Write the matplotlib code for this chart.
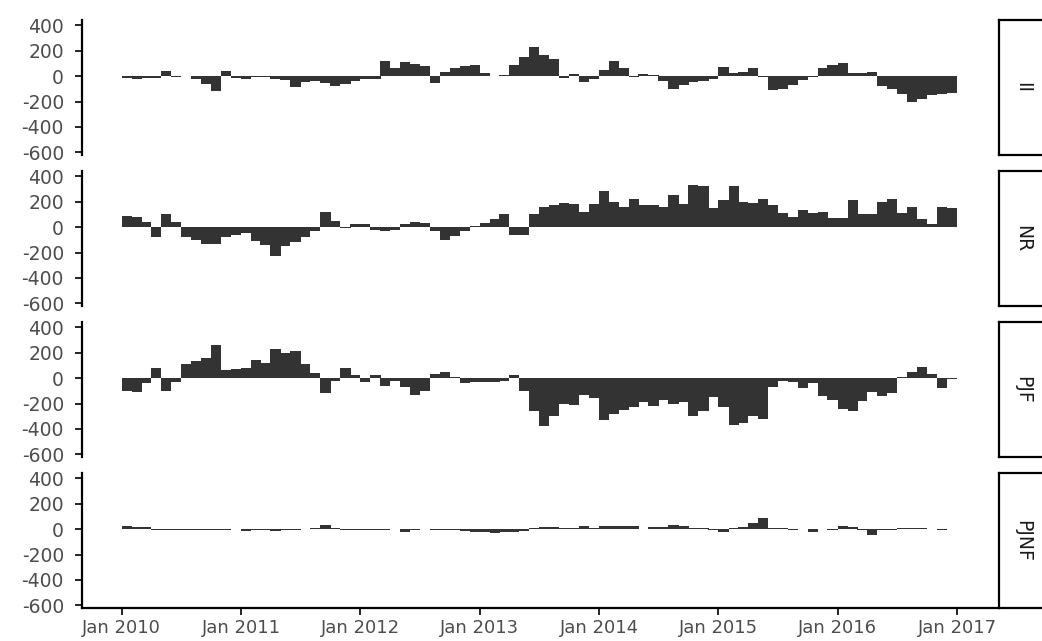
import numpy as np
import pandas as pd
import matplotlib
matplotlib.use("Agg")
import matplotlib.pyplot as plt
import matplotlib.dates as mdates

nan = np.nan

# monthly values, Jan 2010 .. Dec 2016
months = pd.date_range("2010-01-01", periods=84, freq="MS")

II = [-15, -20, -15, -15, 40, -10, nan, -20, -60, -120, 40, -15,
      -20, -10, -5, -25, -35, -85, -50, -40, -55, -75, -60, -40,
      -25, -20, 120, 60, 110, 95, 80, -55, 35, 65, 80, 90,
      20, 0, 10, 90, 150, 230, 165, 130, -15, 15, -50, -20,
      50, 120, 60, -10, 15, 5, -40, -100, -70, -50, -40, -20,
      70, 20, 35, 60, -10, -110, -100, -70, -30, -10, 60, 90,
      100, 20, 20, 30, -80, -100, -140, -200, -180, -150, -140, -130]

NR = [85, 80, 40, -75, 100, 40, -80, -100, -130, -130, -80, -60,
      -50, -110, -140, -230, -150, -120, -80, -30, 120, 50, -5, 20,
      20, -20, -30, -20, 20, 40, 30, -30, -100, -70, -30, 10,
      30, 60, 100, -60, -60, 100, 160, 170, 190, 180, 120, 180,
      280, 200, 160, 220, 170, 170, 160, 250, 180, 330, 320, 150,
      210, 320, 200, 190, 220, 170, 110, 80, 130, 110, 120, 70,
      70, 210, 100, 100, 200, 220, 110, 160, 60, 20, 160, 150]

PJF = [-100, -110, -40, 80, -100, -30, 110, 130, 160, 260, 60, 70,
       80, 140, 120, 230, 200, 210, 110, 40, -120, -20, 80, 20,
       -30, 20, -60, -20, -70, -130, -100, 30, 50, 10, -40, -30,
       -30, -30, -20, 20, -100, -260, -380, -300, -200, -210, -130, -160,
       -330, -280, -250, -230, -190, -220, -170, -200, -190, -300, -260, -150,
       -230, -370, -350, -300, -320, -70, -20, -30, -80, -40, -140, -170,
       -240, -260, -180, -110, -140, -120, 10, 50, 90, 30, -80, -10]

PJNF = [20, 15, 15, -5, -10, -10, -10, -5, -5, -5, -5, nan,
        -15, -10, -10, -15, -10, -5, nan, 5, 30, 10, -5, -5,
        -10, -5, -5, nan, -20, -10, nan, -5, -5, -5, -15, -20,
        -20, -30, -20, -20, -15, 10, 15, 15, 10, 10, 20, 10,
        20, 20, 20, 20, nan, 15, 15, 30, 25, 5, 5, -10,
        -20, 10, 15, 50, 90, 10, 10, -5, nan, -25, nan, -5,
        20, 15, -10, -50, -5, -5, 5, 10, 5, nan, -10, nan]

groups = ["II", "NR", "PJF", "PJNF"]
series = [II, NR, PJF, PJNF]

y_ticks = [-600, -400, -200, 0, 200, 400]
x_ticks = pd.date_range("2010-01-01", "2017-01-01", freq="YS")

W, H = 1042, 641
fig = plt.figure(figsize=(W / 100, H / 100), dpi=100)
plt.rcParams['font.family'] = ['DejaVu Sans']
fs = 13.5

x = mdates.date2num(months)
xmin = mdates.date2num(pd.Timestamp("2010-01-01")) - 122
xmax = mdates.date2num(pd.Timestamp("2017-01-01")) + 128

left, right = 82, 999
for i, (name, vals) in enumerate(zip(groups, series)):
    top = 20 + 151 * i
    h = 135
    ax = fig.add_axes([left / W, 1 - (top + h) / H, (right - left) / W, h / H])
    ax.bar(x, vals, width=31, align='edge', color='#333333', linewidth=0)
    ax.set_xlim(xmin, xmax)
    ax.set_ylim(-620, 440)
    ax.set_yticks(y_ticks)
    ax.set_yticklabels([str(v) for v in y_ticks])
    for s in ['top', 'right']:
        ax.spines[s].set_visible(False)
    ax.spines['left'].set_linewidth(1.6)
    ax.tick_params(axis='y', length=5, width=1.2, pad=8, labelsize=fs, labelcolor='#4D4D4D')
    ax.set_xticks(mdates.date2num(x_ticks))
    if i < 3:
        ax.spines['bottom'].set_visible(False)
        ax.tick_params(axis='x', length=0, labelbottom=False)
    else:
        ax.spines['bottom'].set_linewidth(1.6)
        ax.set_xticklabels([d.strftime("Jan %Y") for d in x_ticks])
        ax.tick_params(axis='x', length=5, width=1.2, pad=3, labelsize=13, labelcolor='#4D4D4D')

    # facet strip on the right
    sax = fig.add_axes([right / W, 1 - (top + h) / H, 50 / W, h / H])
    sax.set_xticks([])
    sax.set_yticks([])
    for s in sax.spines.values():
        s.set_linewidth(1.6)
        s.set_color('black')
    sax.text(24 / 50, 0.5, name, rotation=-90, ha='center', va='center',
             fontsize=fs, color='#1A1A1A', transform=sax.transAxes)

fig.savefig("out.png", dpi=100)
